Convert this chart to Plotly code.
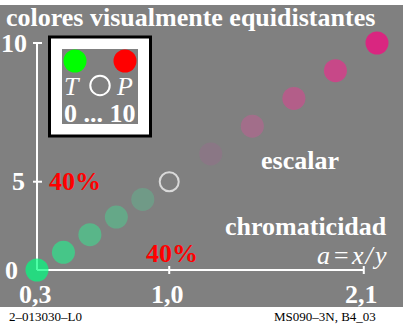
import plotly.graph_objects as go

# ---- data ----
steps = list(range(11))
chroma_a = [0.30, 0.44, 0.58, 0.72, 0.86, 1.00, 1.22, 1.44, 1.66, 1.88, 2.10]
scale_pos = [0.30, 0.44, 0.58, 0.72, 0.86, 1.00, 1.22, 1.44, 1.66, 1.88, 2.10]
point_colors = ["#00FF80", "#2EE48C", "#48CD8D", "#5AB98C", "#6AA58A", "rgba(0,0,0,0)",
                "#8E7488", "#B0668F", "#C9508D", "#E5308C", "#FF0080"]
x_tick_pos = [0.30, 1.00, 2.03]
x_tick_text = ["0,3", "1,0", "2,1"]
y_tick_pos = [0.30, 1.00, 2.10]
y_tick_text = ["0", "5", "10"]

W, H = 413, 325
def px(x):
    return x / W
def py(y):
    return 1 - y / H

SERIF = "Liberation Serif"
GRAY = "#808080"

line_w = [2 if c.startswith("rgba") else 0 for c in point_colors]
sizes = [19 if c.startswith("rgba") else 23 for c in point_colors]

fig = go.Figure()
fig.add_trace(go.Scatter(
    x=chroma_a, y=scale_pos, mode="markers",
    marker=dict(color=point_colors, size=sizes,
                line=dict(color="white", width=line_w)),
    cliponaxis=False, hoverinfo="skip", showlegend=False))

shapes = []
# background panel
shapes.append(dict(type="rect", xref="paper", yref="paper", x0=px(0), x1=px(403),
                   y0=py(307), y1=py(5), fillcolor=GRAY, line=dict(width=0), layer="below"))
# axes
shapes.append(dict(type="line", xref="x", yref="y", x0=x_tick_pos[0], x1=x_tick_pos[-1],
                   y0=y_tick_pos[0], y1=y_tick_pos[0], line=dict(color="white", width=2), layer="below"))
shapes.append(dict(type="line", xref="x", yref="y", x0=x_tick_pos[0], x1=x_tick_pos[0],
                   y0=y_tick_pos[0], y1=y_tick_pos[-1], line=dict(color="white", width=2), layer="below"))
for xv in x_tick_pos[1:]:
    shapes.append(dict(type="line", xref="x", yref="y", ysizemode="pixel", yanchor=y_tick_pos[0],
                       x0=xv, x1=xv, y0=-4, y1=4, line=dict(color="white", width=2), layer="below"))
for yv in y_tick_pos[1:]:
    shapes.append(dict(type="line", xref="x", yref="y", xsizemode="pixel", xanchor=x_tick_pos[0],
                       x0=-4, x1=5, y0=yv, y1=yv, line=dict(color="white", width=2), layer="below"))
# legend box
shapes.append(dict(type="rect", xref="paper", yref="paper", x0=px(49.5), x1=px(150.5),
                   y0=py(136), y1=py(37), fillcolor="white", line=dict(color="black", width=3)))
shapes.append(dict(type="rect", xref="paper", yref="paper", x0=px(62), x1=px(138),
                   y0=py(124), y1=py(49), fillcolor=GRAY, line=dict(width=0)))
def circ(cx, cy, r, fill, lc=None, lw=0):
    return dict(type="circle", xref="paper", yref="paper", x0=px(cx - r), x1=px(cx + r),
                y0=py(cy + r), y1=py(cy - r), fillcolor=fill,
                line=dict(color=lc or fill, width=lw))
shapes.append(circ(75, 61, 11.5, "#00FF00"))
shapes.append(circ(125, 61, 11.5, "#FF0000"))
shapes.append(circ(100, 85.5, 9.7, "rgba(0,0,0,0)", "white", 2))

ann = []
def txt(text, x, y, size=26, color="white", xa="center", bold=True, italic=False):
    ann.append(dict(text=text, x=px(x), y=py(y), xref="paper", yref="paper",
                    xanchor=xa, yanchor="middle", showarrow=False,
                    font=dict(family=SERIF, size=size, color=color,
                              weight="bold" if bold else "normal",
                              style="italic" if italic else "normal")))

txt("colores visualmente equidistantes", 4, 18, xa="left")
# tick labels
for xv, t in zip(x_tick_pos, x_tick_text):
    ann.append(dict(text=t, x=xv, y=py(294), xref="x", yref="paper", xanchor="center",
                    yanchor="middle", xshift=-2, showarrow=False,
                    font=dict(family=SERIF, size=26, color="white", weight="bold")))
for yv, t, xr in zip(y_tick_pos, y_tick_text, [20, 27, 29]):
    ann.append(dict(text=t, x=px(xr), y=yv, xref="paper", yref="y", xanchor="right",
                    yanchor="middle", showarrow=False,
                    font=dict(family=SERIF, size=26, color="white", weight="bold")))
txt("40%", 74.5, 181, color="#FF0000")
txt("40%", 172, 253, color="#FF0000")
txt("escalar", 300, 160)
txt("chromaticidad", 389, 226, xa="right")
txt("a\u200a=\u200ax\u200a/\u200ay", 389, 255, bold=False, italic=True, xa="right")
# legend texts
txt("T", 72, 86, bold=False, italic=True)
txt("P", 124, 86, bold=False, italic=True)
txt("0 ... 10", 100, 113)
# footer
txt("2\u2013013030\u2013L0", 7, 316, size=13, color="black", bold=False, xa="left")
txt("MS090\u20133N, B4_03", 378, 316, size=13, color="black", bold=False, xa="right")

# axis ranges chosen so a=0.3 -> x px 37, a=2.1 -> x px 377; y 0.3 -> 270, 2.1 -> 43
xs = (377 - 37) / (2.1 - 0.3)
ys = (270 - 43) / (2.1 - 0.3)
xr = [0.3 - 37 / xs, 0.3 + (W - 37) / xs]
yr = [0.3 - (H - 270) / ys, 0.3 + 270 / ys]

fig.update_layout(
    width=W, height=H, margin=dict(l=0, r=0, t=0, b=0),
    paper_bgcolor="white", plot_bgcolor="rgba(0,0,0,0)",
    xaxis=dict(range=xr, visible=False, fixedrange=True),
    yaxis=dict(range=yr, visible=False, fixedrange=True),
    shapes=shapes, annotations=ann, showlegend=False)

fig.write_html("out.html", config={"displayModeBar": False},
               post_script="document.body.style.margin='0';document.body.style.overflow='hidden';")
